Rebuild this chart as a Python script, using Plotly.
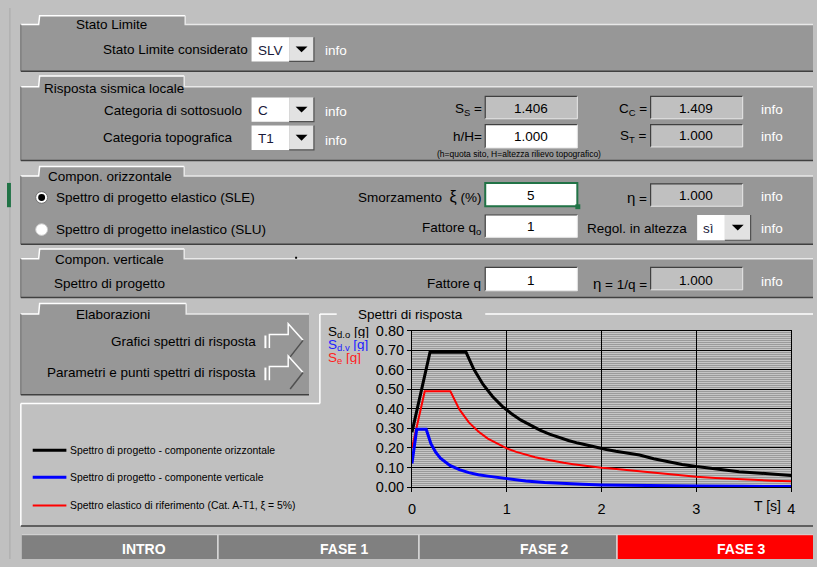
import plotly.graph_objects as go

# ---------------- data ----------------
T_oriz = [0.000, 0.190, 0.571, 0.650, 0.750, 0.850, 0.950, 1.050, 1.150, 1.250, 1.350, 1.450, 1.550,
          1.650, 1.750, 1.850, 1.950, 2.050, 2.150, 2.250, 2.400, 2.550, 2.700, 2.850, 3.000, 3.150,
          3.300, 3.450, 3.600, 3.750, 3.900, 4.000]
Sd_oriz = [0.281, 0.689, 0.689, 0.605, 0.525, 0.463, 0.414, 0.375, 0.342, 0.315, 0.291, 0.271, 0.254,
           0.238, 0.225, 0.213, 0.202, 0.192, 0.183, 0.175, 0.164, 0.145, 0.130, 0.116, 0.105, 0.095,
           0.087, 0.079, 0.073, 0.067, 0.062, 0.059]

T_vert = [0.000, 0.050, 0.150, 0.200, 0.250, 0.300, 0.400, 0.500, 0.600, 0.700, 0.800, 0.900, 1.000,
          1.200, 1.400, 1.600, 1.800, 2.000, 2.500, 3.000, 3.500, 4.000]
Sd_vert = [0.121, 0.296, 0.296, 0.222, 0.178, 0.148, 0.111, 0.089, 0.074, 0.063, 0.056, 0.049, 0.044,
           0.031, 0.023, 0.017, 0.014, 0.011, 0.007, 0.005, 0.004, 0.003]

T_el = [0.000, 0.135, 0.405, 0.500, 0.600, 0.700, 0.800, 0.900, 1.000, 1.100, 1.200, 1.300, 1.400,
        1.500, 1.600, 1.700, 1.800, 1.900, 2.000, 2.100, 2.200, 2.300, 2.400, 2.600, 2.800, 3.000,
        3.200, 3.400, 3.600, 3.800, 4.000]
Se_el = [0.200, 0.490, 0.490, 0.397, 0.331, 0.284, 0.248, 0.221, 0.198, 0.180, 0.165, 0.153, 0.142,
         0.132, 0.124, 0.117, 0.110, 0.104, 0.099, 0.095, 0.090, 0.086, 0.083, 0.071, 0.061, 0.053,
         0.047, 0.041, 0.037, 0.033, 0.030]

y_tick_vals = [0.0, 0.1, 0.2, 0.3, 0.4, 0.5, 0.6, 0.7, 0.8]
y_tick_text = ["0.00", "0.10", "0.20", "0.30", "0.40", "0.50", "0.60", "0.70", "0.80"]
x_tick_vals = [0, 1, 2, 3, 4]
x_tick_text = ["0", "1", "2", "3", "4"]

legend_labels = ["Spettro di progetto - componente orizzontale",
                 "Spettro di progetto - componente verticale",
                 "Spettro elastico di riferimento (Cat. A-T1, \u03be = 5%)"]
tab_labels = ["INTRO", "FASE 1", "FASE 2", "FASE 3"]

# ---------------- helpers ----------------
W, H = 817, 567
FONT = "Liberation Sans, Arial, sans-serif"
PANEL = "#979797"
BG = "#c0c0c0"
FS = 13.5

def X(px):
    return px / W

def Y(py):
    return 1 - py / H

shapes = []
annotations = []

def path(points, close=False, fill=None, color=None, width=1):
    d = "M " + " L ".join(f"{X(a):.5f},{Y(b):.5f}" for a, b in points)
    if close:
        d += " Z"
    s = dict(type="path", xref="paper", yref="paper", path=d,
             line=dict(color=color or "rgba(0,0,0,0)", width=width if color else 0))
    if fill:
        s["fillcolor"] = fill
    shapes.append(s)

def rect(x0, y0, x1, y1, fill, color=None, width=1):
    shapes.append(dict(type="rect", xref="paper", yref="paper",
                       x0=X(x0), x1=X(x1), y0=Y(y1), y1=Y(y0), fillcolor=fill,
                       line=dict(color=color or "rgba(0,0,0,0)", width=width if color else 0)))

def line(x0, y0, x1, y1, color, width=1):
    shapes.append(dict(type="line", xref="paper", yref="paper",
                       x0=X(x0), x1=X(x1), y0=Y(y0), y1=Y(y1),
                       line=dict(color=color, width=width)))

def circle(cx, cy, r, fill, color=None, width=1):
    shapes.append(dict(type="circle", xref="paper", yref="paper",
                       x0=X(cx - r), x1=X(cx + r), y0=Y(cy + r), y1=Y(cy - r), fillcolor=fill,
                       line=dict(color=color or "rgba(0,0,0,0)", width=width if color else 0)))

def txt(x, y, s, size=FS, color="black", anchor="left", bold=False, height=None):
    if bold:
        s = "<b>" + s + "</b>"
    a = dict(x=X(x), y=Y(y), xref="paper", yref="paper", text=s, showarrow=False,
             xanchor=anchor, yanchor="middle",
             font=dict(family=FONT, size=size, color=color))
    if height:
        a["height"] = height
    annotations.append(a)

def panel(x0, y0, x1, y1, tx0, tx1, ty):
    pts = [(x0, y1), (x0, y0), (tx0, y0), (tx0 + 1, ty), (tx1, ty), (tx1, y0), (x1, y0), (x1, y1)]
    path(pts, close=True, fill=PANEL)
    path([(x0, y0), (tx0, y0), (tx0 + 1, ty), (tx1, ty)], color="white", width=1.5)
    path([(tx1, ty), (tx1, y0), (x1, y0)], color="#e8e8e8", width=1.5)
    line(x0, y0, x0, y1, "#6a6a6a", 1)
    line(x0, y1, x1, y1, "#404040", 1.5)

def box(x0, y0, x1, y1, fill):
    rect(x0, y0, x1, y1, fill)
    path([(x0, y1), (x0, y0), (x1, y0)], color="#404040", width=1.2)
    path([(x1, y0), (x1, y1), (x0, y1)], color="#e8e8e8", width=1)

def dropdown(x0, y0, xb, x1, y1, label):
    rect(x0, y0, xb, y1, "white")
    rect(xb, y0, x1, y1, "#e2e2e2")
    path([(xb, y1), (x1, y1), (x1, y0)], color="#505050", width=1.2)
    cx, cy = (xb + x1) / 2, (y0 + y1) / 2
    path([(cx - 6, cy - 3), (cx + 6, cy - 3), (cx, cy + 3)], close=True, fill="black")
    txt(x0 + 4, cy + 1, label, color="#1a1a3a")

# ---------------- background ----------------
line(6, 0, 6, 567, "#a8a8a8", 1)
rect(3, 180, 7, 205, "#217346")

# Panel 1 : Stato Limite
panel(17, 17, 817, 65, 35, 183, 8)
txt(109, 17, "Stato Limite", anchor="center")
txt(248, 43, "Stato Limite considerato", anchor="right")
dropdown(250, 30, 288, 313, 55, "SLV")
txt(322, 44, "info", color="white")

# Panel 2 : Risposta sismica locale
panel(17, 81, 817, 157, 35, 182, 70)
txt(38, 83, "Risposta sismica locale")
txt(242, 105, "Categoria di sottosuolo", anchor="right")
dropdown(250, 92, 288, 313, 117, "C")
txt(322, 106, "info", color="white")
txt(233, 133, "Categoria topografica", anchor="right")
dropdown(250, 121, 288, 313, 146, "T1")
txt(322, 136, "info", color="white")

txt(485, 104, "S<sub>S</sub> =", anchor="right")
box(486, 91, 579, 114, BG)
txt(532, 103, "1.406", anchor="center")
txt(651, 104, "C<sub>C</sub> =", anchor="right")
box(653, 91, 746, 114, BG)
txt(699, 103, "1.409", anchor="center")
txt(762, 104, "info", color="white")

txt(485, 132, "h/H=", anchor="right")
box(486, 120, 579, 144, "white")
txt(532, 132, "1.000", anchor="center")
txt(651, 132, "S<sub>T</sub> =", anchor="right")
box(653, 120, 746, 143, BG)
txt(699, 131, "1.000", anchor="center")
txt(762, 132, "info", color="white")
txt(520, 150, "(h=quota sito, H=altezza rilievo topografico)", size=8.5, anchor="center")

# Panel 3 : Compon. orizzontale
panel(17, 173, 817, 243, 35, 182, 163)
txt(107, 173, "Compon. orizzontale", anchor="center")
circle(38, 195, 6, "white", "#707070", 1)
circle(38, 195, 3.5, "black")
txt(50, 195, "Spettro di progetto elastico (SLE)")
circle(38, 228, 6, "white", "#c8c8c8", 1)
txt(50, 228, "Spettro di progetto inelastico (SLU)")

txt(484, 195, "Smorzamento  <span style='font-size:16px'>\u03be</span> (%)", anchor="right")
rect(486, 180, 579, 204, "white", "#217346", 2)
rect(577, 202, 582, 207, "#217346")
txt(532, 193, "5", anchor="center")
txt(651, 195, "<span style='font-size:15px'>\u03b7</span> =", anchor="right")
box(653, 181, 746, 204, BG)
txt(699, 193, "1.000", anchor="center")
txt(762, 194, "info", color="white")

txt(484, 227, "Fattore q<sub>o</sub>", anchor="right")
box(486, 213, 579, 236, "white")
txt(532, 225, "1", anchor="center")
txt(692, 227, "Regol. in altezza", anchor="right")
dropdown(700, 213, 728, 754, 239, "s\u00ec")
txt(762, 227, "info", color="white")

# Panel 4 : Compon. verticale
panel(17, 258, 817, 298, 35, 182, 248)
txt(107, 259, "Compon. verticale", anchor="center")
rect(294, 256, 296, 258, "black")
txt(48, 283, "Spettro di progetto")
txt(484, 283, "Fattore q", anchor="right")
box(486, 267, 579, 291, "white")
txt(532, 280, "1", anchor="center")
txt(651, 283, "<span style='font-size:15px'>\u03b7</span> = 1/q =", anchor="right")
box(653, 267, 746, 290, BG)
txt(699, 280, "1.000", anchor="center")
txt(762, 281, "info", color="white")

# Panel 5 : Elaborazioni
panel(17, 315, 308, 398, 35, 184, 304)
txt(110, 315, "Elaborazioni", anchor="center")
txt(257, 343, "Grafici spettri di risposta", anchor="right")
txt(257, 375, "Parametri e punti spettri di risposta", anchor="right")
for dy in (0, 33):
    line(264, 337 + dy, 264, 350 + dy, "white", 2)
    path([(268, 350 + dy), (268, 336 + dy), (287, 336 + dy), (287, 325 + dy), (302, 342 + dy)],
         color="white", width=1.5)
    path([(302, 342 + dy), (289, 359 + dy)], color="#505050", width=1.5)

# Legend / chart frame
line(17, 407, 319, 407, "white", 1.5)
line(17, 407, 17, 533, "white", 1.5)
line(319, 315, 319, 407, "white", 1.5)
line(319, 315, 336, 315, "white", 1.5)
line(486, 315, 817, 315, "white", 1.5)
line(17, 533, 817, 533, "#404040", 1.5)
txt(411, 315, "Spettri di risposta", anchor="center")

leg_colors = ["black", "#0000ff", "#ff0000"]
leg_widths = [3, 3, 2]
leg_y = [455, 483, 512]
for lbl, c, w, yy in zip(legend_labels, leg_colors, leg_widths, leg_y):
    line(29, yy, 63, yy, c, w)
    txt(65, yy, lbl, size=10.4)

# axis titles
txt(325, 333, "S<sub>d,o</sub> [g]", size=13.5, color="black", height=12)
txt(325, 347, "S<sub>d,v</sub> [g]", size=13.5, color="#2020ff", height=12)
txt(325, 360, "S<sub>e</sub> [g]", size=13.5, color="#ff2020", height=12)
txt(771, 512, "T [s]", size=14, anchor="center")

# Bottom tabs
tab_x = [18, 216, 419, 619, 817]
tab_fill = ["#808080", "#808080", "#808080", "#ff0000"]
for i, lbl in enumerate(tab_labels):
    rect(tab_x[i], 542, tab_x[i + 1], 567, tab_fill[i])
    if i > 0:
        line(tab_x[i], 542, tab_x[i], 567, "#e0e0e0", 1.5)
    txt((tab_x[i] + tab_x[i + 1]) / 2, 557, lbl, size=14, color="white", bold=True)
line(18, 542, 817, 542, "#d8d8d8", 1)

# ---------------- figure ----------------
fig = go.Figure()
fig.add_trace(go.Scatter(x=T_el, y=Se_el, mode="lines", line=dict(color="#ff0000", width=2),
                         name=legend_labels[2], hoverinfo="skip"))
fig.add_trace(go.Scatter(x=T_oriz, y=Sd_oriz, mode="lines", line=dict(color="black", width=3),
                         name=legend_labels[0], hoverinfo="skip"))
fig.add_trace(go.Scatter(x=T_vert, y=Sd_vert, mode="lines", line=dict(color="#0000ff", width=3),
                         name=legend_labels[1], hoverinfo="skip"))

fig.update_layout(
    autosize=True,
    margin=dict(l=0, r=0, t=0, b=0, pad=0),
    paper_bgcolor=BG,
    plot_bgcolor="#c6c6c6",
    showlegend=False,
    font=dict(family=FONT, size=13, color="black"),
    shapes=shapes,
    annotations=annotations,
    xaxis=dict(domain=[X(412), X(795)], range=[0, 4], tickvals=x_tick_vals, ticktext=x_tick_text,
               showgrid=True, gridcolor="black", gridwidth=1, zeroline=False,
               showline=True, linecolor="black", linewidth=1, mirror=True,
               ticks="outside", ticklen=4, tickcolor="black", ticklabelstandoff=5,
               tickfont=dict(family=FONT, size=14.5, color="black")),
    yaxis=dict(domain=[Y(493), Y(332)], range=[0, 0.8], tickvals=y_tick_vals, ticktext=y_tick_text,
               showgrid=True, gridcolor="black", gridwidth=1, zeroline=False,
               showline=True, linecolor="black", linewidth=1, mirror=True,
               ticks="outside", ticklen=4, tickcolor="black",
               tickfont=dict(family=FONT, size=14.5, color="black"),
               minor=dict(dtick=0.01, showgrid=True, gridcolor="#9a9a9a", gridwidth=1, ticks="")),
)

fig.write_html("out.html",
               config={"displayModeBar": False},
               default_width="100vw", default_height="100vh",
               post_script="document.body.style.margin='0';document.body.style.overflow='hidden';"
                           "document.body.style.background='#c0c0c0';")
